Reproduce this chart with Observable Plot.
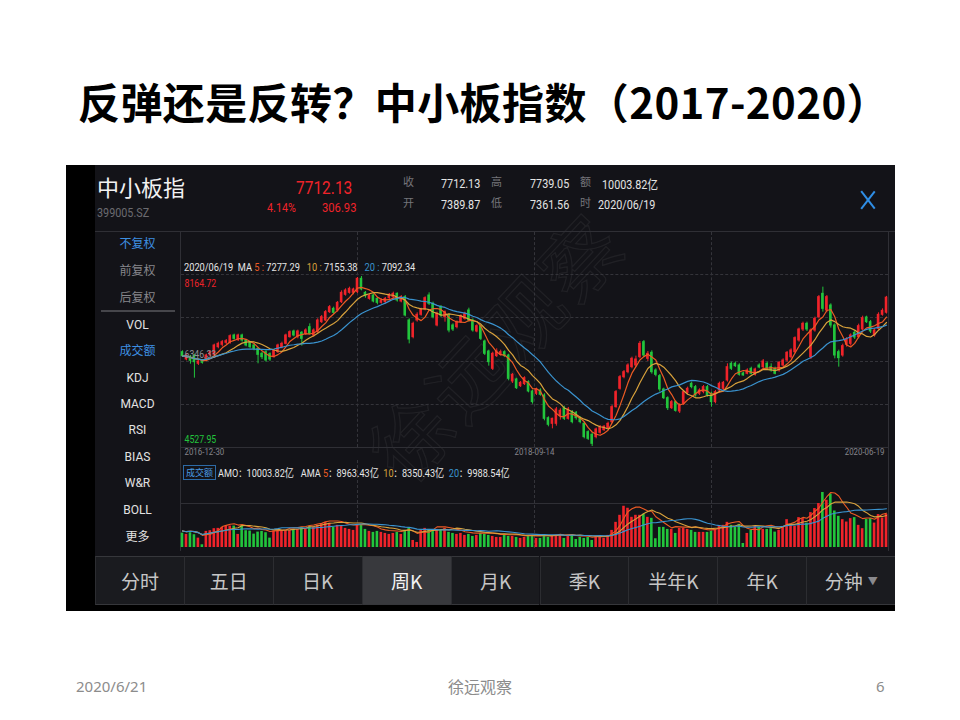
<!DOCTYPE html>
<html lang="zh">
<head>
<meta charset="utf-8">
<script src="https://cdn.jsdelivr.net/npm/d3@7"></script>
<script src="https://cdn.jsdelivr.net/npm/@observablehq/plot@0.6"></script>
<style>
html,body{margin:0;padding:0;}
body{width:960px;height:720px;position:relative;overflow:hidden;background:#fff;font-family:"Noto Sans CJK SC","Noto Sans",sans-serif;}
.a{position:absolute;white-space:nowrap;line-height:1;}
.n{font-family:Roboto,"Noto Sans",sans-serif;transform-origin:0 50%;}
.cj{font-family:"Noto Sans CJK SC",sans-serif;}
#shot{position:absolute;left:66px;top:165px;width:829px;height:446px;background:#000;}
#app{position:absolute;left:95px;top:165px;width:800px;height:440px;background:#131318;}
.hl{position:absolute;height:0;border-top:1px dashed #34343a;}
.vl{position:absolute;width:0;border-left:1px dashed #34343a;}
.sl{position:absolute;background:#2f2f35;}
.menu{position:absolute;left:95px;width:85px;text-align:center;font-size:12px;line-height:1;color:#dedede;}
.tab{position:absolute;top:556px;height:49px;width:88.9px;box-sizing:border-box;border-left:1px solid #2c2d31;border-top:1px solid #36373b;border-bottom:1px solid #36373b;background:#1a1b1f;color:#c6c6c6;font-size:19px;display:flex;align-items:center;justify-content:center;}
.tab.sel{background:#38393d;color:#f2f2f2;}
</style>
</head>
<body>
<script>
// ---------------- data (weekly, 中小板指 399005, 2016-12-30 … 2020-06-19) ----------------
const opens = [
6546,6389,6446,6461,6297,6347,6361,6475,6489,6653,
6703,6746,6746,6903,6803,6903,6796,6746,6689,6618,
6511,6546,6503,6439,6546,6653,6724,6867,6988,6867,
6960,6938,7081,6903,6974,7188,7224,7402,7473,7437,
7616,7773,7815,7815,7830,8115,7815,7687,7758,7687,
7601,7616,7701,7723,7794,7630,7723,7224,6867,7224,
7345,7459,7758,7580,7117,7509,7295,7331,7117,7081,
7188,7259,7437,7224,6988,7102,6774,6560,6190,6461,
6489,6546,6475,5919,5962,5819,5862,5905,5705,5655,
5726,5619,5134,5013,5013,5177,5348,5120,5263,5249,
5134,5013,4835,4778,4728,4821,4878,4921,5049,5370,
5762,6011,6118,6225,6261,6439,6760,6404,6532,6154,
6033,5748,5562,5348,5477,5277,5441,5676,5869,5798,
5655,5691,5798,5655,5477,5726,5762,5940,6297,6297,
6261,6090,6083,6190,6061,6261,6225,6297,6225,6190,
6154,6261,6368,6439,6546,6796,7031,7152,6439,7010,
7295,7794,7437,7544,7117,6546,6475,6703,6724,6960,
6867,7031,7288,7188,6903,7045,7345,7389.87];
const closes = [
6461,6475,6361,6332,6347,6318,6475,6546,6689,6724,
6760,6781,6888,6831,6903,6796,6689,6653,6618,6489,
6439,6368,6389,6582,6689,6724,6903,6974,6903,6988,
6831,7010,6938,7010,7224,7295,7402,7509,7388,7601,
7815,7865,7901,7887,8115,7887,7744,7758,7630,7601,
7651,7687,7773,7794,7651,7723,7331,6817,7152,7345,
7459,7701,7580,7295,7366,7331,7402,7010,7031,7188,
7316,7359,7224,7010,7102,6831,6511,6332,6511,6560,
6546,6461,5976,6061,5776,5890,5990,5705,5477,5748,
5634,5120,4992,5120,5320,5291,5120,5320,5049,5134,
5049,4728,4692,4585,4892,4942,4949,5013,5370,5691,
6011,6118,6261,6404,6389,6724,6475,6511,6118,6061,
5748,5562,5348,5477,5291,5405,5691,5762,5798,5619,
5726,5798,5619,5477,5691,5869,5890,6225,6190,6247,
6061,6047,6154,6083,6175,6218,6347,6190,6154,6083,
6318,6368,6532,6582,6846,7031,7152,7031,7010,7259,
7723,7473,7723,7117,6475,6418,6675,6817,6903,6860,
7102,7273,7188,6988,7010,7345,7430,7712.13];
const highs = [
6575,6503,6475,6503,6375,6375,6503,6575,6717,6760,
6796,6817,6917,6931,6931,6931,6817,6774,6717,6646,
6546,6575,6532,6603,6717,6760,6931,7003,7017,7017,
6988,7045,7152,7045,7259,7331,7437,7544,7509,7630,
7858,7901,7937,7915,8143,8164.72,7844,7787,7787,7716,
7687,7716,7801,7830,7815,7758,7758,7259,7188,7388,
7487,7730,7815,7616,7402,7544,7430,7359,7152,7216,
7345,7402,7487,7259,7131,7131,6803,6589,6546,6618,
6589,6575,6503,6090,5990,5919,6019,5933,5733,5776,
5762,5655,5163,5134,5363,5334,5391,5363,5298,5277,
5163,5049,4864,4821,4921,4978,4978,5049,5405,5726,
6047,6154,6297,6439,6461,6774,6796,6560,6575,6190,
6068,5776,5591,5512,5505,5441,5726,5798,5905,5833,
5762,5833,5833,5691,5726,5905,5919,6297,6332,6332,
6297,6118,6190,6225,6204,6297,6389,6332,6297,6225,
6347,6404,6560,6618,6874,7060,7188,7188,7045,7295,
7758,7937,7758,7580,7152,6589,6717,6860,6938,7003,
7145,7316,7316,7224,7045,7388,7473,7739.05];
const lows = [
6432,6361,6289,5990,6261,6289,6347,6446,6461,6618,
6660,6703,6717,6803,6774,6760,6660,6618,6575,6297,
6389,6332,6347,6418,6518,6618,6703,6846,6874,6831,
6675,6903,6917,6867,6945,7159,7202,7373,7359,7402,
7587,7744,7787,7773,7801,7858,7701,7658,7601,7559,
7573,7580,7673,7687,7616,7601,7302,6724,6831,7188,
7316,7430,7544,7259,7088,7288,7188,6960,6988,7045,
7159,7231,7188,6974,6960,6796,6475,6247,6154,6432,
6461,6432,5933,5876,5748,5790,5833,5676,5434,5619,
5605,5077,4949,4906,4963,5092,5085,5092,5013,5092,
5013,4692,4657,4527.95,4692,4792,4849,4892,5020,5348,
5733,5976,6083,6190,6218,6404,6432,6347,6076,6019,
5691,5534,5298,5320,5263,5234,5405,5634,5762,5584,
5619,5655,5584,5370,5441,5691,5726,5905,6154,6218,
6033,6033,6061,6061,6033,6190,6190,6154,6118,6061,
6118,6225,6332,6404,6511,6760,6988,6988,6389,6974,
7259,7402,7388,7060,6404,6225,6439,6653,6675,6817,
6831,7003,7159,6945,6867,7017,7316,7361.56];
// 成交额（亿）
const amounts = [
4330,3940,4450,3850,2820,820,4850,5060,5670,5760,
6060,6360,6450,6450,3940,6670,5060,4940,4030,4640,
4850,4450,2820,4940,4940,5150,5060,5060,5450,5450,
6060,5450,6360,6060,6670,6970,7580,7270,6060,6670,
6360,5760,5450,5150,6670,6970,5450,4850,4550,4850,
4550,4240,3940,4240,4550,3940,5150,5760,2120,1520,
5150,5760,5450,5150,5450,5150,5760,4550,4240,3940,
4240,3640,3940,3330,3640,4240,3940,3640,3330,3030,
3030,3940,3330,3330,3030,2730,3030,3330,3330,2730,
2730,3640,3030,3330,3640,3640,2730,3330,3640,2420,
3030,2730,3030,2120,3330,3030,2730,3640,5150,7580,
9700,12420,11820,9090,9700,9700,10000,9090,8790,2640,
6060,6060,5450,5450,4240,5760,5760,5450,5150,4550,
4550,4550,4550,4850,5150,6360,6670,7580,6670,6060,
6970,1210,4240,5150,6360,6060,5450,5450,5670,4640,
5150,6360,8390,6880,6360,9000,8700,7360,10510,11730,
13240,16570,14240,16060,11000,9390,8390,7670,8700,9000,
6670,5670,8480,8700,7360,9910,8880,10003.82];
const dateTicks = ["2016-12-30", "2018-09-14", "2020-06-19"];
const maWindows = [5, 10, 20];
const maLegend = [7277.29, 7155.38, 7092.34];
const amaLegend = [8963.43, 8350.43, 9988.54];
const amoLast = 10003.82;
const quote = {name: "中小板指", code: "399005.SZ", last: "7712.13", pct: "4.14%", chg: "306.93",
  close: "7712.13", open: "7389.87", high: "7739.05", low: "7361.56", amount: "10003.82亿", date: "2020/06/19"};
const menuItems = ["不复权", "前复权", "后复权", "VOL", "成交额", "KDJ", "MACD", "RSI", "BIAS", "W&R", "BOLL", "更多"];
const tabs = ["分时", "五日", "日K", "周K", "月K", "季K", "半年K", "年K", "分钟"];
</script>

<div class="a cj" style="left:78px;top:80px;font-size:42px;font-weight:700;letter-spacing:0.4px;color:#000;">反弹还是反转？中小板指数（2017-2020）</div>

<div id="shot"></div>
<div id="app"></div>
<div id="wm" class="a cj" style="left:330px;top:305px;font-size:78px;color:transparent;-webkit-text-stroke:1.2px rgba(255,255,255,0.06);transform:rotate(-47deg);transform-origin:center;letter-spacing:4px;">徐远观察</div>
<div id="ui"></div>
<div id="price" style="position:absolute;left:180px;top:232px;"></div>
<div id="vol" style="position:absolute;left:180px;top:482px;"></div>
<div id="ama" style="position:absolute;left:180px;top:482px;"></div>

<div class="a" style="left:76px;top:679px;font-family:'Noto Sans',sans-serif;font-size:15px;color:#8c8c8c;">2020/6/21</div>
<div class="a cj" style="left:448px;top:678px;font-size:16px;color:#8c8c8c;">徐远观察</div>
<div class="a" style="left:876px;top:679px;font-family:'Noto Sans',sans-serif;font-size:15px;color:#8c8c8c;">6</div>

<script>
const UP = "#f0232a", DOWN = "#22c53c";
const MA_COLORS = ["#ec5b24", "#d9a23c", "#3a93cf"];
const ui = document.getElementById("ui");
function put(html){ ui.insertAdjacentHTML("beforeend", html); }
const yi = s => s.replace("亿", '<span class="cj">亿</span>');

// header
put(`<div class="a cj" style="left:97px;top:175px;font-size:22px;color:#f2f2f2;">${quote.name}</div>`);
put(`<div class="a n" style="left:97px;top:206px;font-size:13px;color:#6b6b70;transform:scaleX(0.83);">${quote.code}</div>`);
put(`<div class="a n" style="left:296px;top:179px;font-size:18px;color:${UP};transform:scaleX(0.86);">${quote.last}</div>`);
put(`<div class="a n" style="left:267px;top:200.5px;font-size:13px;color:${UP};transform:scaleX(0.83);">${quote.pct}</div>`);
put(`<div class="a n" style="left:322px;top:200.5px;font-size:13.5px;color:${UP};transform:scaleX(0.83);">${quote.chg}</div>`);
const hdr = [
  ["收", quote.close, 403, 441, 177], ["高", quote.high, 491, 530, 177], ["额", quote.amount, 580, 602, 177],
  ["开", quote.open, 403, 441, 198], ["低", quote.low, 491, 530, 198], ["时", quote.date, 580, 598, 198]];
for (const [k, v, xk, xv, t] of hdr) {
  put(`<div class="a cj" style="left:${xk}px;top:${t - 1}px;font-size:11px;color:#75757a;">${k}</div>`);
  put(`<div class="a n" style="left:${xv}px;top:${t}px;font-size:13px;color:#e4e4e4;transform:scaleX(0.83);">${yi(v)}</div>`);
}
// close cross
put(`<div style="position:absolute;left:867px;top:189px;width:1.6px;height:22px;background:#2f8ee5;transform:rotate(38deg);"></div>`);
put(`<div style="position:absolute;left:867px;top:189px;width:1.6px;height:22px;background:#2f8ee5;transform:rotate(-38deg);"></div>`);

// frame lines
put(`<div class="sl" style="left:95px;top:231px;width:800px;height:1px;"></div>`);
put(`<div class="sl" style="left:180px;top:231px;width:1px;height:320px;"></div>`);
put(`<div class="sl" style="left:888px;top:231px;width:1px;height:320px;"></div>`);
put(`<div class="sl" style="left:180px;top:447px;width:708px;height:1px;"></div>`);
put(`<div class="sl" style="left:180px;top:503px;width:708px;height:1px;"></div>`);
for (let k = 1; k <= 4; k++) put(`<div class="hl" style="left:181px;top:${(231 + 43.2 * k).toFixed(1)}px;width:707px;"></div>`);
for (let k = 1; k <= 3; k++) put(`<div class="vl" style="left:${180 + 177 * k}px;top:232px;height:215px;"></div>`);
for (let k = 1; k <= 3; k++) put(`<div class="vl" style="left:${180 + 177 * k}px;top:460px;height:88px;"></div>`);

// left menu
const menuY = [244, 271, 298, 325, 351, 378, 404, 430, 457, 483, 510, 537];
menuItems.forEach((m, j) => {
  const cjk = /[\u4e00-\u9fff]/.test(m);
  const col = (m === "不复权" || m === "成交额") ? "#3d8fe2" : (m === "前复权" || m === "后复权") ? "#86868b" : "#e2e2e2";
  put(`<div class="menu" style="top:${menuY[j] - (cjk ? 7 : 6)}px;color:${col};font-family:${cjk ? "'Noto Sans CJK SC'" : "Roboto"};">${m}</div>`);
});
put(`<div style="position:absolute;left:101px;top:310px;width:74px;height:2px;background:#46464b;"></div>`);

// price legend
const sp = "&nbsp;";
put(`<div class="a n" style="left:184px;top:262px;font-size:11px;color:#e6e6e6;transform:scaleX(0.84);">${quote.date}${sp}${sp}MA${sp}${maWindows.map((k, j) => `<span style="color:${MA_COLORS[j]}">${k}</span>${sp}<span style="color:${MA_COLORS[j]}">:</span>${sp}${maLegend[j].toFixed(2)}${sp}${sp}${sp}`).join("")}</div>`);

// volume legend
put(`<div class="a cj" style="left:183px;top:465px;width:31px;height:13px;border:1px solid #2d6aa6;color:#4a9be3;font-size:9px;line-height:13px;text-align:center;">成交额</div>`);
put(`<div class="a n" style="left:218px;top:467px;font-size:11px;color:#e6e6e6;transform:scaleX(0.83);">AMO<span class="cj" style="font-size:10px">：</span>${yi(amoLast.toFixed(2) + "亿")}${sp}${sp}${sp}AMA${sp}${maWindows.map((k, j) => `<span style="color:${MA_COLORS[j]}">${k}</span><span class="cj" style="font-size:10px">：</span>${yi(amaLegend[j].toFixed(2) + "亿")}${sp}${sp}`).join("")}</div>`);

// tabs
tabs.forEach((t, j) => {
  const sel = t === "周K";
  const label = t === "分钟" ? `${t}<span style="font-size:10px;color:#8a8a8e;margin-left:5px;">▼</span>` : t;
  put(`<div class="tab cj${sel ? " sel" : ""}" style="left:${(95 + 88.9 * j).toFixed(1)}px;">${label}</div>`);
});

// ---------------- charts ----------------
const rows = closes.map((c, i) => ({i, open: opens[i], close: c, high: highs[i], low: lows[i], amt: amounts[i]}));
const idx = rows.map(d => d.i);
const dir = d => d.close >= d.open ? UP : DOWN;
const yMin = d3.min(lows), yMax = d3.max(highs);
const xBand = {type: "band", domain: idx, paddingInner: 0.35, paddingOuter: 0.175, axis: null};
const fmt = v => (Math.floor(v * 100 + 1e-6) / 100).toFixed(2);

const price = Plot.plot({
  width: 708, height: 228, marginTop: 44, marginBottom: 14, marginLeft: 0, marginRight: 0,
  style: {background: "transparent", fontFamily: "Roboto, sans-serif", overflow: "visible"},
  x: xBand,
  y: {domain: [yMin, yMax], axis: null},
  color: {type: "identity"},
  marks: [
    Plot.ruleX(rows, {x: "i", y1: "low", y2: "high", stroke: dir, strokeWidth: 1}),
    Plot.barY(rows, {x: "i", y1: "open", y2: "close", fill: dir, insetTop: -0.5, insetBottom: -0.5}),
    ...maWindows.map((k, j) => Plot.lineY(rows, Plot.windowY({k, anchor: "end", strict: false},
      {x: "i", y: "close", stroke: MA_COLORS[j], strokeWidth: 1.2}))),
    Plot.text([yMax], {y: d => d, text: fmt, frameAnchor: "left", textAnchor: "start", dx: 4, dy: 7, fill: UP, fontSize: 10.5}),
    Plot.text([(yMax + yMin) / 2], {y: d => d, text: fmt, frameAnchor: "left", textAnchor: "start", dx: 4, dy: -7, fill: "#8e8e94", fontSize: 10.5}),
    Plot.text([yMin], {y: d => d, text: fmt, frameAnchor: "left", textAnchor: "start", dx: 4, dy: -7, fill: DOWN, fontSize: 10.5}),
    Plot.text([dateTicks[0]], {frameAnchor: "bottom-left", textAnchor: "start", dx: 4, dy: 8, fill: "#85858b", fontSize: 9.5}),
    Plot.text([dateTicks[1]], {frameAnchor: "bottom", dy: 8, fill: "#85858b", fontSize: 9.5}),
    Plot.text([dateTicks[2]], {frameAnchor: "bottom-right", textAnchor: "end", dx: -4, dy: 8, fill: "#85858b", fontSize: 9.5})
  ]
});
document.getElementById("price").appendChild(price);
// condensed numerals like the app's font (after it is in the page, so lengths can be measured)
d3.select(price).selectAll("text").each(function() {
  const L = this.getComputedTextLength();
  if (L > 0) {
    this.setAttribute("textLength", (L * 0.83).toFixed(1));
    this.setAttribute("lengthAdjust", "spacingAndGlyphs");
  }
});

const vol = Plot.plot({
  width: 708, height: 66, marginTop: 10, marginBottom: 1, marginLeft: 0, marginRight: 0,
  style: {background: "transparent"},
  x: xBand,
  y: {axis: null, domain: [0, d3.max(amounts)]},
  color: {type: "identity"},
  marks: [Plot.barY(rows, {x: "i", y: "amt", fill: dir})]
});
document.getElementById("vol").appendChild(vol);

const ama = Plot.plot({
  width: 708, height: 66, marginTop: 10, marginBottom: 1, marginLeft: 0, marginRight: 0,
  style: {background: "transparent"},
  x: xBand,
  y: {axis: null, nice: false},
  marks: [
    Plot.ruleY([0], {strokeOpacity: 0}),
    ...maWindows.map((k, j) => Plot.lineY(rows, Plot.windowY({k, anchor: "end", strict: false},
      {x: "i", y: "amt", stroke: MA_COLORS[j], strokeWidth: 1.1})))
  ]
});
document.getElementById("ama").appendChild(ama);
</script>
</body>
</html>
